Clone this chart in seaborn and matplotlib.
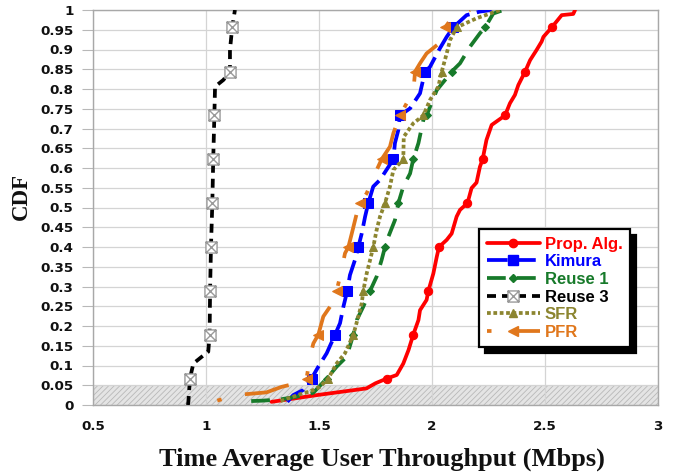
import numpy as np
import pandas as pd
import matplotlib
matplotlib.use("Agg")
import matplotlib.pyplot as plt
from matplotlib.lines import Line2D
from matplotlib.path import Path
import seaborn as sns

# ---------------- data ----------------
prop_x = [1.29, 1.49, 1.71, 1.75, 1.80, 1.844, 1.873, 1.896, 1.917, 1.94, 1.947, 1.976, 1.984,
          2.006, 2.021, 2.031, 2.065, 2.087, 2.109, 2.124, 2.157, 2.175, 2.197, 2.212, 2.224,
          2.241, 2.264, 2.323, 2.345, 2.367, 2.382, 2.412, 2.434, 2.463, 2.485, 2.493, 2.530,
          2.574, 2.625, 2.633]
prop_y = [0.008, 0.025, 0.042, 0.055, 0.067, 0.076, 0.105, 0.139, 0.178, 0.215, 0.240, 0.266, 0.289,
          0.333, 0.375, 0.400, 0.418, 0.434, 0.477, 0.494, 0.511, 0.549, 0.563, 0.603, 0.622,
          0.671, 0.709, 0.733, 0.764, 0.785, 0.810, 0.844, 0.873, 0.899, 0.920, 0.932, 0.956,
          0.987, 0.990, 1.0]

kim_x = [1.36, 1.386, 1.43, 1.467, 1.497, 1.534, 1.571, 1.593, 1.608, 1.625, 1.637, 1.659, 1.674,
         1.689, 1.704, 1.718, 1.740, 1.770, 1.829, 1.836, 1.851, 1.858, 1.903, 1.947, 1.969,
         1.991, 2.035, 2.065, 2.094, 2.153, 2.212, 2.264]
kim_y = [0.008, 0.025, 0.038, 0.067, 0.097, 0.131, 0.178, 0.207, 0.249, 0.289, 0.329, 0.367, 0.400,
         0.434, 0.477, 0.511, 0.553, 0.570, 0.622, 0.663, 0.696, 0.733, 0.751, 0.789, 0.844,
         0.856, 0.903, 0.932, 0.956, 0.987, 0.996, 1.0]

r1_x = [1.20, 1.25, 1.327, 1.401, 1.475, 1.534, 1.578, 1.622, 1.652, 1.667, 1.696, 1.726, 1.755,
        1.777, 1.792, 1.807, 1.836, 1.851, 1.873, 1.903, 1.917, 1.940, 1.962, 1.976, 2.021,
        2.058, 2.087, 2.124, 2.168, 2.212, 2.235, 2.271, 2.316]
r1_y = [0.010, 0.011, 0.014, 0.021, 0.031, 0.067, 0.097, 0.122, 0.178, 0.215, 0.249, 0.289, 0.325,
        0.367, 0.400, 0.426, 0.468, 0.511, 0.553, 0.586, 0.622, 0.663, 0.722, 0.733, 0.797,
        0.823, 0.844, 0.865, 0.907, 0.941, 0.956, 0.991, 1.0]

r3_x = [0.920, 0.922, 0.929, 0.944, 0.981, 1.010, 1.016, 1.018, 1.022, 1.028, 1.032, 1.037,
        1.040, 1.077, 1.106, 1.106, 1.116, 1.128]
r3_y = [0.0, 0.008, 0.067, 0.105, 0.122, 0.135, 0.178, 0.289, 0.400, 0.511, 0.622, 0.733,
        0.806, 0.823, 0.844, 0.899, 0.956, 1.0]

sfr_x = [1.33, 1.43, 1.46, 1.504, 1.541, 1.578, 1.615, 1.652, 1.674, 1.689, 1.696, 1.711, 1.726,
         1.740, 1.755, 1.770, 1.792, 1.814, 1.829, 1.873, 1.875, 1.917, 1.962, 1.991, 2.028,
         2.043, 2.065, 2.080, 2.109, 2.197, 2.301]
sfr_y = [0.010, 0.030, 0.034, 0.046, 0.067, 0.105, 0.131, 0.178, 0.224, 0.257, 0.289, 0.333, 0.367,
         0.400, 0.443, 0.477, 0.511, 0.553, 0.595, 0.622, 0.679, 0.713, 0.733, 0.772, 0.806,
         0.844, 0.890, 0.924, 0.956, 0.979, 1.0]

pfr_x = [1.05, 1.128, 1.268, 1.335, 1.43, 1.445, 1.46, 1.475, 1.497, 1.519, 1.549, 1.578, 1.600,
         1.615, 1.630, 1.645, 1.667, 1.681, 1.711, 1.748, 1.777, 1.814, 1.829, 1.858, 1.888,
         1.917, 1.925, 1.947, 1.976, 2.050, 2.058, 2.087, 2.168]
pfr_y = [0.011, 0.025, 0.032, 0.046, 0.059, 0.067, 0.122, 0.156, 0.178, 0.224, 0.249, 0.289, 0.342,
         0.384, 0.400, 0.434, 0.485, 0.511, 0.536, 0.586, 0.622, 0.654, 0.688, 0.733, 0.764,
         0.789, 0.844, 0.865, 0.890, 0.924, 0.956, 0.979, 1.0]

MARK_LEVELS = [0.067, 0.178, 0.289, 0.400, 0.511, 0.622, 0.733, 0.844, 0.956]

series_names = ["Prop. Alg.", "Kimura", "Reuse 1", "Reuse 3", "SFR", "PFR"]
series_x = [prop_x, kim_x, r1_x, r3_x, sfr_x, pfr_x]
series_y = [prop_y, kim_y, r1_y, r3_y, sfr_y, pfr_y]

x_tick_vals = [0.5, 1.0, 1.5, 2.0, 2.5, 3.0]
x_tick_labels = ["0.5", "1", "1.5", "2", "2.5", "3"]
y_tick_vals = [round(0.05 * i, 2) for i in range(21)]
y_tick_labels = ["0", "0.05", "0.1", "0.15", "0.2", "0.25", "0.3", "0.35", "0.4", "0.45", "0.5",
                 "0.55", "0.6", "0.65", "0.7", "0.75", "0.8", "0.85", "0.9", "0.95", "1"]

# ---------------- styles ----------------
box_x = Path([(-1, -1), (1, -1), (1, 1), (-1, 1), (-1, -1), (-1, -1), (1, 1), (-1, 1), (1, -1)],
             [Path.MOVETO, Path.LINETO, Path.LINETO, Path.LINETO, Path.CLOSEPOLY,
              Path.MOVETO, Path.LINETO, Path.MOVETO, Path.LINETO])

styles = [
    dict(color="#ff0000", linestyle="-", marker="o", markersize=6,
         markerfacecolor="#ff0000", markeredgecolor="#ff0000"),
    dict(color="#0000ff", linestyle=(0, (5.5, 2.0)), marker="s", markersize=7,
         markerfacecolor="#0000ff", markeredgecolor="#0000ff"),
    dict(color="#177a2a", linestyle=(0, (5.0, 3.0)), marker="D", markersize=4,
         markerfacecolor="#177a2a", markeredgecolor="#177a2a"),
    dict(color="#000000", linestyle=(0, (2.4, 1.6)), marker=box_x, markersize=8,
         markerfacecolor="white", markeredgecolor="#9a9a9a", markeredgewidth=1.0),
    dict(color="#8c8530", linestyle=(0, (1.0, 0.7)), marker="^", markersize=6,
         markerfacecolor="#8c8530", markeredgecolor="#8c8530"),
    dict(color="#e0771c", linestyle=(0, (1.2, 6.4, 12.0, 6.0)), marker="<", markersize=7,
         markerfacecolor="#e0771c", markeredgecolor="#e0771c"),
]
LW = 2.7

sns.set_theme(style="white")
plt.rcParams["hatch.linewidth"] = 0.6

fig = plt.figure(figsize=(6.87, 4.72), dpi=100)
ax = fig.add_axes([93 / 687, 1 - 405 / 472, 565 / 687, 395 / 472])

# shaded band
ax.axhspan(0, 0.05, facecolor="#e4e4e4", edgecolor="#b8b8b8", hatch="//////",
           linewidth=0, zorder=0.3)

for name, xs, ys, st in zip(series_names, series_x, series_y, styles):
    df = pd.DataFrame({"x": xs, "y": ys})
    marks = [i for i, v in enumerate(ys) if any(abs(v - m) < 1e-6 for m in MARK_LEVELS)]
    sns.lineplot(data=df, x="x", y="y", sort=False, estimator=None, ax=ax,
                 linewidth=LW, markevery=marks, zorder=3, **st)

ax.set_xlim(0.5, 3.0)
ax.set_ylim(0, 1.0)
ax.set_xticks(x_tick_vals)
ax.set_xticklabels(x_tick_labels)
ax.set_yticks(y_tick_vals)
ax.set_yticklabels(y_tick_labels)
ax.set_xlabel("")
ax.set_ylabel("")

for lab in ax.get_xticklabels() + ax.get_yticklabels():
    lab.set_fontfamily("DejaVu Sans")
    lab.set_fontweight("bold")
    lab.set_fontsize(9.7)
    lab.set_color("#111111")

ax.tick_params(axis="y", which="major", length=8, width=0.8, color="#b8b8b8",
               direction="out", pad=6, left=True)
ax.tick_params(axis="x", which="major", length=0, pad=11)

ax.grid(True, color="#d4d4d4", linewidth=0.9)
ax.set_axisbelow(True)
for sp in ax.spines.values():
    sp.set_visible(True)
    sp.set_color("#a8a8a8")
    sp.set_linewidth(1.0)

fig.text(21 / 687, 1 - 196 / 472, "CDF", rotation=90, ha="center", va="center",
         fontfamily="Liberation Serif", fontweight="bold", fontsize=16.5, color="#111111")
fig.text(382 / 687, 1 - 459 / 472, "Time Average User Throughput (Mbps)", ha="center",
         va="center", fontfamily="Liberation Serif", fontweight="bold", fontsize=19,
         color="#111111")

# legend
handles = [Line2D([], [], linewidth=LW, **st) for st in styles]
leg = ax.legend(handles, series_names, loc="upper left",
                bbox_to_anchor=((479 - 93) / 565, (405 - 229) / 395),
                prop=dict(family="Liberation Sans", weight="bold", size=12),
                frameon=True, fancybox=False, edgecolor="black", framealpha=1,
                shadow=dict(color="black", alpha=1.0, ox=4, oy=-4),
                handlelength=3.2, handletextpad=0.3, labelspacing=0.16,
                borderpad=0.45, borderaxespad=0, numpoints=1)
leg.get_frame().set_linewidth(1.6)
leg.set_zorder(5)
for txt, st in zip(leg.get_texts(), styles):
    txt.set_color(st["color"])

fig.savefig("out.png", dpi=100)
